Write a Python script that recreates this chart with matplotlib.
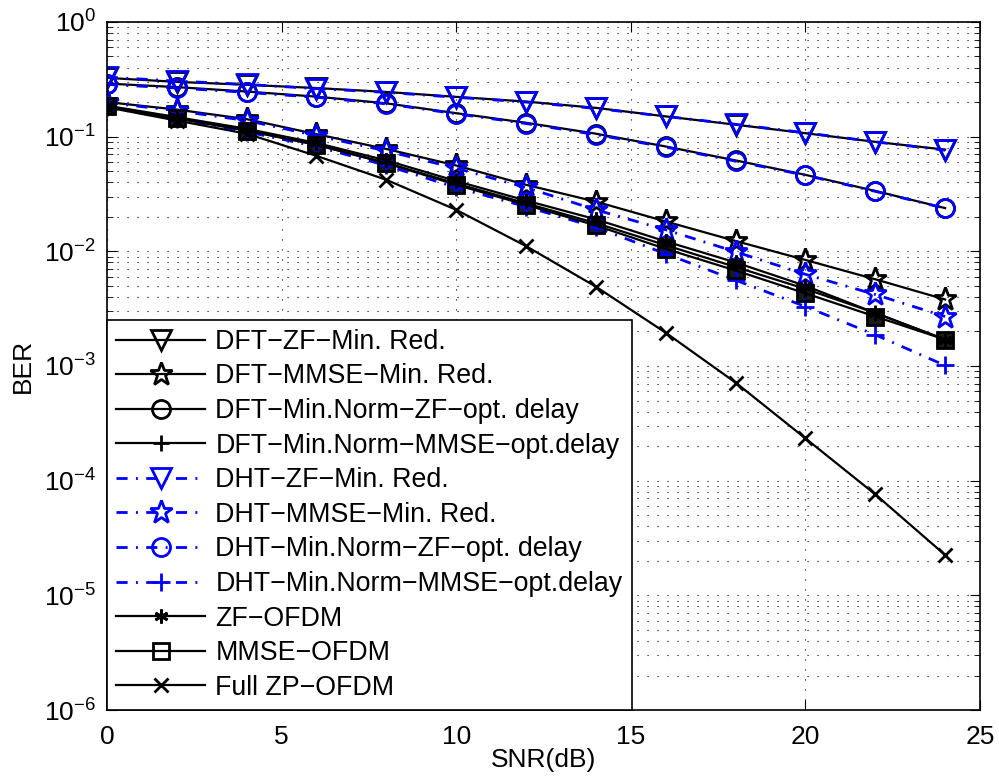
import matplotlib
matplotlib.use('Agg')
import matplotlib.pyplot as plt
from matplotlib.ticker import LogLocator, NullFormatter, MultipleLocator

plt.rcParams['font.family'] = ['Liberation Sans', 'DejaVu Sans']
plt.rcParams['mathtext.default'] = 'regular'

snr = [0, 2, 4, 6, 8, 10, 12, 14, 16, 18, 20, 22, 24]

dft_zf_minred = [0.325, 0.300, 0.283, 0.265, 0.245, 0.222, 0.202, 0.178, 0.150, 0.127, 0.107, 0.090, 0.077]
dft_mmse_minred = [0.200, 0.172, 0.142, 0.105, 0.078, 0.056, 0.038, 0.0271, 0.0182, 0.0123, 0.0084, 0.0057, 0.0038]
dft_zf_opt = [0.290, 0.270, 0.247, 0.223, 0.195, 0.160, 0.132, 0.106, 0.082, 0.062, 0.0464, 0.0336, 0.0238]
dft_mmse_opt = [0.182, 0.144, 0.113, 0.085, 0.059, 0.039, 0.0262, 0.0176, 0.0113, 0.0073, 0.0047, 0.0029, 0.0017]
dht_zf_minred = [0.330, 0.305, 0.285, 0.262, 0.243, 0.220, 0.200, 0.176, 0.150, 0.128, 0.108, 0.090, 0.076]
dht_mmse_minred = [0.198, 0.168, 0.138, 0.102, 0.075, 0.053, 0.036, 0.0230, 0.0154, 0.0099, 0.0063, 0.0042, 0.0027]
dht_zf_opt = [0.285, 0.265, 0.243, 0.220, 0.193, 0.158, 0.130, 0.104, 0.081, 0.061, 0.0460, 0.0333, 0.0237]
dht_mmse_opt = [0.180, 0.142, 0.110, 0.082, 0.056, 0.036, 0.0245, 0.0162, 0.0095, 0.0056, 0.0033, 0.00187, 0.00101]
zf_ofdm = [0.186, 0.148, 0.117, 0.088, 0.062, 0.041, 0.0277, 0.0190, 0.0122, 0.0080, 0.0050, 0.0029, 0.0017]
mmse_ofdm = [0.184, 0.145, 0.113, 0.0847, 0.0586, 0.038, 0.0254, 0.0168, 0.0105, 0.0068, 0.0043, 0.0027, 0.0017]
full_zp_ofdm = [0.180, 0.138, 0.106, 0.0679, 0.042, 0.023, 0.0111, 0.00492, 0.00195, 0.000717, 0.000234, 7.6e-5, 2.25e-5]

labels = ['DFT\u2212ZF\u2212Min. Red.', 'DFT\u2212MMSE\u2212Min. Red.',
          'DFT\u2212Min.Norm\u2212ZF\u2212opt. delay', 'DFT\u2212Min.Norm\u2212MMSE\u2212opt.delay',
          'DHT\u2212ZF\u2212Min. Red.', 'DHT\u2212MMSE\u2212Min. Red.',
          'DHT\u2212Min.Norm\u2212ZF\u2212opt. delay', 'DHT\u2212Min.Norm\u2212MMSE\u2212opt.delay',
          'ZF\u2212OFDM', 'MMSE\u2212OFDM', 'Full ZP\u2212OFDM']

asterisk = (6, 2, 0)
dashdot = (0, (4, 3, 0.7, 3))
fs = 19

fig = plt.figure(figsize=(9.99, 7.82), dpi=100)
ax = fig.add_axes([0.107, 0.092, 0.874, 0.880])

def curve(y, marker, color, ls, lw, ms, label):
    ax.semilogy(snr, y, color=color, linestyle=ls, linewidth=lw, marker=marker,
                markersize=ms, markerfacecolor='none', markeredgecolor=color,
                markeredgewidth=2, label=label)

# dark fill under the overlapping OFDM squares
ax.semilogy(snr, mmse_ofdm, linestyle='none', marker='s', markersize=11,
            markerfacecolor='#1a1a1a', markeredgecolor='k')

curve(dft_zf_minred, 'v', 'k', '-', 1.6, 15, labels[0])
curve(dft_mmse_minred, '*', 'k', '-', 1.6, 17, labels[1])
curve(dft_zf_opt, 'o', 'k', '-', 1.6, 13, labels[2])
curve(dft_mmse_opt, '+', 'k', '-', 1.6, 12, labels[3])
curve(dht_zf_minred, 'v', 'b', dashdot, 2, 15, labels[4])
curve(dht_mmse_minred, '*', 'b', dashdot, 2, 17, labels[5])
curve(dht_zf_opt, 'o', 'b', dashdot, 2, 13, labels[6])
curve(dht_mmse_opt, '+', 'b', dashdot, 2, 13, labels[7])
curve(zf_ofdm, asterisk, 'k', '-', 1.6, 10, labels[8])
curve(mmse_ofdm, 's', 'k', '-', 1.6, 11, labels[9])
curve(full_zp_ofdm, 'x', 'k', '-', 1.6, 10, labels[10])

ax.set_xlim(0, 25)
ax.set_ylim(1e-6, 1)
ax.xaxis.set_major_locator(MultipleLocator(5))
ax.yaxis.set_major_locator(LogLocator(base=10, numticks=10))
ax.yaxis.set_minor_locator(LogLocator(base=10, subs=range(2, 10), numticks=20))
ax.yaxis.set_minor_formatter(NullFormatter())

ax.grid(True, which='major', axis='both', color='k', linestyle=(0, (1, 8)), linewidth=0.8)
ax.grid(True, which='minor', axis='y', color='k', linestyle=(0, (1, 8)), linewidth=0.8)
ax.tick_params(which='both', direction='in', top=True, right=True, labelsize=fs)
ax.tick_params(axis='x', pad=11)
ax.tick_params(axis='y', pad=8)
ax.tick_params(which='major', length=7)
ax.tick_params(which='minor', length=4)
for s in ax.spines.values():
    s.set_linewidth(1.2)

ax.set_xlabel('SNR(dB)', fontsize=fs, labelpad=-1)
ax.set_ylabel('BER', fontsize=fs, labelpad=6)

leg = ax.legend(loc='lower left', fontsize=19.3, fancybox=False,
                edgecolor='k', framealpha=1, handlelength=3.3, handletextpad=0.4,
                labelspacing=0.32, borderpad=0.35, borderaxespad=0)
leg.get_frame().set_linewidth(1.2)

fig.savefig('out.png', dpi=100)
